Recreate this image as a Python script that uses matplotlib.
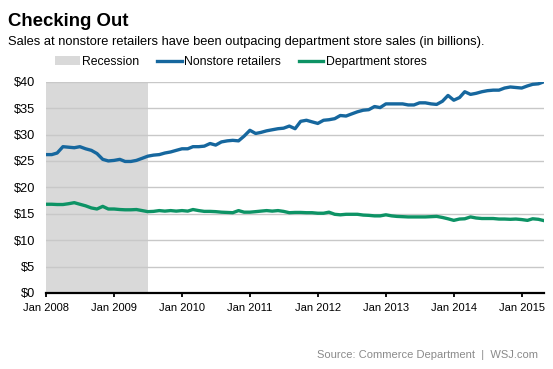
import numpy as np
import pandas as pd
import matplotlib
matplotlib.use("Agg")
import matplotlib.pyplot as plt
import matplotlib.dates as mdates
from matplotlib.patches import Patch
from matplotlib.lines import Line2D

plt.rcParams['font.family'] = ['Liberation Sans', 'DejaVu Sans']

# monthly sales, billions of dollars, Jan 2008 - May 2015
months = pd.date_range("2008-01-01", "2015-05-01", freq="MS")
nonstore = [26.2, 26.2, 26.5, 27.7, 27.6, 27.5, 27.7, 27.3, 27.0, 26.4,
            25.3, 25.0, 25.1, 25.3, 24.9, 24.9, 25.1, 25.5, 25.9, 26.1,
            26.2, 26.5, 26.7, 27.0, 27.3, 27.3, 27.7, 27.7, 27.8, 28.3,
            28.0, 28.6, 28.8, 28.9, 28.8, 29.7, 30.8, 30.2, 30.4, 30.7,
            30.9, 31.1, 31.2, 31.6, 31.1, 32.5, 32.7, 32.4, 32.1, 32.7,
            32.8, 33.0, 33.6, 33.5, 33.9, 34.3, 34.6, 34.7, 35.3, 35.1,
            35.8, 35.8, 35.8, 35.8, 35.6, 35.6, 36.0, 36.0, 35.8, 35.7,
            36.3, 37.4, 36.5, 37.0, 38.1, 37.6, 37.8, 38.1, 38.3, 38.4,
            38.4, 38.8, 39.0, 38.9, 38.8, 39.2, 39.5, 39.6, 40.0]
department = [16.8, 16.8, 16.75, 16.75, 16.9, 17.1, 16.8, 16.5, 16.1, 15.9,
              16.4, 15.9, 15.9, 15.8, 15.75, 15.75, 15.8, 15.6, 15.4, 15.45,
              15.6, 15.5, 15.6, 15.5, 15.6, 15.5, 15.8, 15.6, 15.45, 15.45,
              15.4, 15.3, 15.25, 15.2, 15.6, 15.3, 15.3, 15.4, 15.5, 15.6,
              15.5, 15.6, 15.45, 15.2, 15.25, 15.25, 15.2, 15.2, 15.1, 15.1,
              15.3, 14.9, 14.8, 14.9, 14.9, 14.9, 14.75, 14.7, 14.6, 14.6,
              14.8, 14.6, 14.5, 14.45, 14.4, 14.4, 14.4, 14.4, 14.45, 14.5,
              14.3, 14.05, 13.75, 14.0, 14.05, 14.4, 14.2, 14.1, 14.1, 14.1,
              14.0, 14.0, 13.95, 14.0, 13.9, 13.75, 14.05, 13.95, 13.7]
recession = ("2008-01-01", "2009-07-01")
yticks = [0, 5, 10, 15, 20, 25, 30, 35, 40]
xticks = pd.date_range("2008-01-01", "2015-01-01", freq="YS")

blue = "#16679e"
green = "#0d9365"

fig = plt.figure(figsize=(5.53, 3.69), dpi=100)
ax = fig.add_axes([46/553, 1-293/369, 498/553, (293-81.7)/369])

ax.axvspan(pd.Timestamp(recession[0]), pd.Timestamp(recession[1]),
           color="#d9d9d9", lw=0, zorder=0)
ax.plot(months, nonstore, color=blue, lw=2.4, zorder=3)
ax.plot(months, department, color=green, lw=2.4, zorder=3)

ax.set_xlim(months[0], months[-1])
ax.set_ylim(0, 40)
ax.set_yticks(yticks)
ax.set_yticklabels(["$%d" % v for v in yticks])
ax.set_xticks(xticks)
ax.xaxis.set_major_formatter(mdates.DateFormatter("Jan %Y"))
ax.grid(axis="y", color="#c8c8c8", lw=1, zorder=1)
ax.set_axisbelow(True)
for s in ["top", "right", "left"]:
    ax.spines[s].set_visible(False)
ax.spines["bottom"].set_linewidth(1.6)
ax.spines["bottom"].set_zorder(4)
ax.tick_params(axis="y", length=0, pad=8, labelsize=9.2)
ax.tick_params(axis="x", length=3, width=1.3, direction="out", pad=4, labelsize=8)

fig.text(8/553, 1-26/369, "Checking Out", fontsize=13.4, fontweight="bold",
         va="baseline", ha="left")
fig.text(8.5/553, 1-45/369,
         "Sales at nonstore retailers have been outpacing department store sales (in billions).",
         fontsize=9.3, va="baseline", ha="left")
fig.text(538/553, 1-358/369, "Source: Commerce Department  |  WSJ.com",
         fontsize=8, color="#8a8a8a", va="baseline", ha="right")

handles = [Patch(facecolor="#d9d9d9", edgecolor="none"),
           Line2D([], [], color=blue, lw=2.4),
           Line2D([], [], color=green, lw=2.4)]
labels = ["Recession", "Nonstore retailers", "Department stores"]
fig.legend(handles, labels, loc="center left", bbox_to_anchor=(55/553, 1-62/369),
           ncol=3, frameon=False, fontsize=8.85, borderpad=0, borderaxespad=0,
           handlelength=2.0, handletextpad=0.2, columnspacing=1.45, handleheight=0.7)

fig.savefig("out.png", dpi=100)
